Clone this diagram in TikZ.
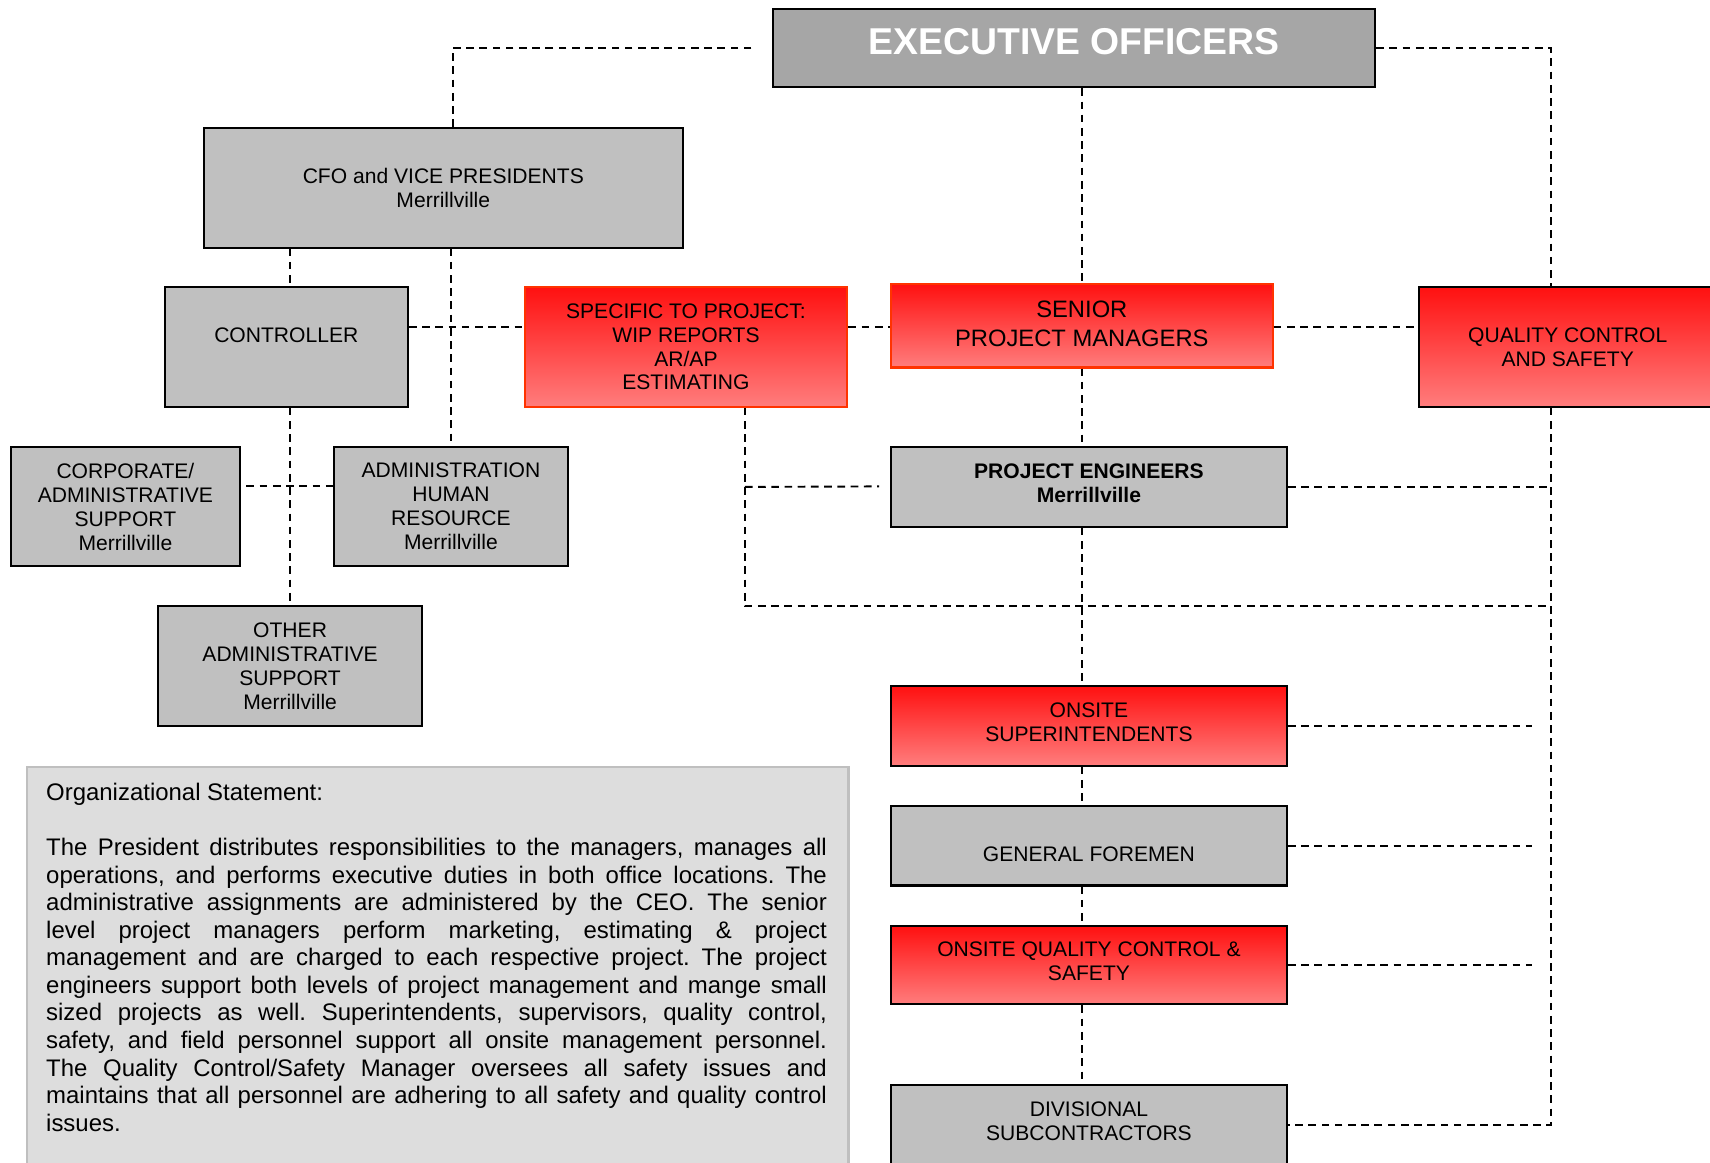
\documentclass[tikz,border=0pt]{standalone}
\usepackage{fontspec}
\setmainfont{Liberation Sans}
\usetikzlibrary{calc}
\definecolor{boxgray}{RGB}{192,192,192}
\definecolor{execgray}{RGB}{166,166,166}
\definecolor{redtop}{RGB}{255,16,16}
\definecolor{redbottom}{RGB}{255,125,125}
\definecolor{redline}{RGB}{255,51,0}
\definecolor{notegray}{RGB}{221,221,221}
\definecolor{noteline}{RGB}{191,191,191}
\newcommand{\lowpad}[1]{\rule[-#1]{0pt}{0pt}}

\tikzset{
  link/.style={line width=1pt, dash pattern=on 4pt off 2.9pt},
  unit/.style={draw=black, line width=1.1pt, align=center, inner sep=2pt, font=\fontsize{11}{12.5}\selectfont},
  grayunit/.style={unit, fill=boxgray},
  redunit/.style={unit, top color=redtop, bottom color=redbottom},
  hotunit/.style={redunit, draw=redline},
}

\begin{document}
\begin{tikzpicture}[x=0.02cm, y=-0.02cm]
  \useasboundingbox (0,0) rectangle (1568,1066);

  % Top level
  \node[unit, fill=execgray, minimum width=11.04cm, minimum height=1.44cm, font=\fontsize{19.5}{22}\selectfont\bfseries, text=white, text depth=6.8pt] (exec) at (985,44) {EXECUTIVE OFFICERS};

  % Office side
  \node[grayunit, minimum width=8.78cm, minimum height=2.2cm] (cfo) at (406.5,172) {CFO and VICE PRESIDENTS\\Merrillville};
  \node[grayunit, minimum width=4.46cm, minimum height=2.2cm, text depth=12.6pt] (ctrl) at (262.5,318) {CONTROLLER};
  \node[grayunit, minimum width=4.2cm, minimum height=2.18cm] (corp) at (115,464.5) {CORPORATE/\\ADMINISTRATIVE\\SUPPORT\\Merrillville};
  \node[grayunit, minimum width=4.3cm, minimum height=2.18cm] (adm) at (413.5,464.5) {ADMINISTRATION\\HUMAN\\RESOURCE\\Merrillville};
  \node[grayunit, minimum width=4.84cm, minimum height=2.2cm] (other) at (266,611) {OTHER\\ADMINISTRATIVE\\SUPPORT\\Merrillville};

  % Project side
  \node[hotunit, minimum width=5.92cm, minimum height=2.2cm] (spec) at (629,318) {SPECIFIC TO PROJECT:\\WIP REPORTS\\AR/AP\\ESTIMATING};
  \node[hotunit, minimum width=7cm, minimum height=1.54cm, font=\fontsize{12.4}{14.8}\selectfont] (spm) at (992,298.5) {SENIOR\\PROJECT MANAGERS\lowpad{2pt}};
  \node[redunit, minimum width=5.46cm, minimum height=2.2cm] (qc) at (1437.5,318) {QUALITY CONTROL\\AND SAFETY};
  \node[grayunit, minimum width=7.26cm, minimum height=1.46cm, font=\fontsize{11}{12.5}\selectfont\bfseries] (pe) at (998.5,446.5) {PROJECT ENGINEERS\\Merrillville\lowpad{4pt}};

  % Field
  \node[redunit, minimum width=7.26cm, minimum height=1.46cm] (sup) at (998.5,665.5) {ONSITE\\SUPERINTENDENTS\lowpad{4pt}};
  \node[grayunit, minimum width=7.26cm, minimum height=1.46cm, text height=16.5pt, text depth=0pt] (gf) at (998.5,775.5) {GENERAL FOREMEN};
  \node[redunit, minimum width=7.26cm, minimum height=1.44cm] (oqc) at (998.5,885) {ONSITE QUALITY CONTROL \&\\SAFETY\lowpad{4pt}};
  \node[grayunit, minimum width=7.26cm, minimum height=1.46cm] (ds) at (998.5,1031.5) {DIVISIONAL\\SUBCONTRACTORS\lowpad{4pt}};

  % Statement
  \node[draw=noteline, line width=1.2pt, fill=notegray, anchor=north west, minimum width=15.06cm, minimum height=7.8cm, inner sep=0pt] (note) at (24,702) {};
  \node[anchor=north west, text width=14.32cm, align=justify, inner sep=0pt, font=\fontsize{12.5}{14.4}\selectfont\sloppy\frenchspacing\hyphenpenalty10000\relax] (notetext) at (42,717.5) {Organizational Statement:\par\vspace{14.4pt}
    The President distributes responsibilities to the managers, manages all\linebreak
    operations, and performs executive duties in both office locations. The\linebreak
    administrative assignments are administered by the CEO. The senior\linebreak
    level project managers perform marketing, estimating \& project\linebreak
    management and are charged to each respective project. The project\linebreak
    engineers support both levels of project management and mange small\linebreak
    sized projects as well. Superintendents, supervisors, quality control,\linebreak
    safety, and field personnel support all onsite management personnel.\linebreak
    The Quality Control/Safety Manager oversees all safety issues and\linebreak
    maintains that all personnel are adhering to all safety and quality control\linebreak
    issues.};

  % Dashed links
  \coordinate (exgap) at (689,44);
  \coordinate (midrow) at (0,300);
  \coordinate (corpgap) at (226,446);
  \coordinate (fork) at (683,556);
  \coordinate (rail) at (1422,556);
  \coordinate (railgap) at (1405,556);
  \coordinate (pegap) at (806,446);

  \draw[link] (exgap) -| ($(cfo.north)+(8.5,0)$);
  \draw[link] (exec.east) -| (rail |- qc.north);
  \draw[link] (exec.south -| spm.north) -- (spm.north);
  \draw[link] (cfo.south -| other.north) -- (ctrl.north -| other.north);
  \draw[link] (cfo.south -| adm.north) -- (adm.north);
  \draw[link] (ctrl.south -| other.north) -- (other.north);
  \draw[link] (ctrl.east |- midrow) -- (spec.west |- midrow);
  \draw[link] (spec.east |- midrow) -- (spm.west |- midrow);
  \draw[link] (spm.east |- midrow) -- (qc.west |- midrow);
  \draw[link] (corpgap) -- (adm.west |- corpgap);
  \draw[link] (spec.south -| fork) -- (fork) -- (rail);
  \draw[link] (fork |- pe.west) -- (pegap);
  \draw[link] (pe.east) -- (rail |- pe.east);
  \draw[link] (spm.south) -- (pe.north -| spm.south);
  \draw[link] (pe.south -| spm.south) -- (sup.north -| spm.south);
  \draw[link] (sup.south -| spm.south) -- (gf.north -| spm.south);
  \draw[link] (gf.south -| spm.south) -- (oqc.north -| spm.south);
  \draw[link] (oqc.south -| spm.south) -- (ds.north -| spm.south);
  \draw[link] (rail |- qc.south) |- (ds.east);
  \foreach \n in {sup,gf,oqc}
    \draw[link] (\n.east) -- (railgap |- \n.east);
\end{tikzpicture}
\end{document}
